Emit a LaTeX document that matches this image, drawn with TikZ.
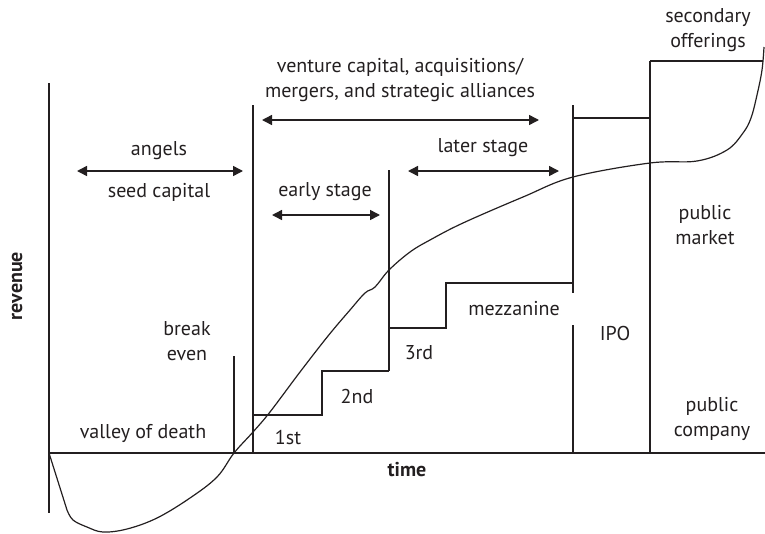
\documentclass[tikz,border=0pt]{standalone}
\usepackage{fontspec}
\setmainfont{PT Sans}
\usetikzlibrary{arrows.meta}
\definecolor{ink}{RGB}{35,31,32}
\begin{document}
\begin{tikzpicture}[x=1pt,y=-1pt,
  line/.style={draw=ink,line width=1.3pt},
  twoway/.style={draw=ink,line width=1.5pt,{Triangle[length=10pt,width=10pt]}-{Triangle[length=10pt,width=10pt]}},
  lbl/.style={text=ink,font=\fontsize{20}{25}\selectfont,inner sep=0pt,align=center},
  bold/.style={lbl,font=\fontsize{20}{25}\selectfont\bfseries}]
\useasboundingbox (0,0) rectangle (765,533);
% axes
\draw[line] (49,83) -- (49,513);
\draw[line] (49,453) -- (765,453);
% verticals
\draw[line] (234,356) -- (234,453);
\draw[line] (253,105) -- (253,453);
\draw[line] (573,105) -- (573,293);
\draw[line] (573,325) -- (573,453);
\draw[line] (650,61) -- (650,453);
% steps
\draw[line] (253,415) -- (322,415) -- (322,371) -- (389,371);
\draw[line] (389,170) -- (389,371);
\draw[line] (389,328) -- (446,328) -- (446,283) -- (573,283);
\draw[line] (573,118) -- (650,118);
\draw[line] (650,61) -- (763,61);
% revenue curve
\draw[line,line width=1.2pt] (49,453) -- (67,510)
  plot[smooth,tension=0.6] coordinates {(67,510) (73,520) (87,527) (103,532) (127,529) (157,518) (190,498) (217,477) (234,453) (253,432) (270,412) (300,372) (328,336) (350,310) (365,293) (375,287) (389,270) (410,252) (430,240) (463,223) (523,197) (573,177) (650,163) (697,161) (727,150) (743,133) (751,118) (757,95) (762,70) (764,47)};
% arrows
\coordinate (a1) at (77,171); \coordinate (a2) at (243,171);
\coordinate (v1) at (262,120); \coordinate (v2) at (539,120);
\coordinate (l1) at (408,171); \coordinate (l2) at (559,171);
\coordinate (e1) at (272,215); \coordinate (e2) at (380,215);
\draw[twoway] (a1) -- (a2);
\draw[twoway] (v1) -- (v2);
\draw[twoway] (l1) -- (l2);
\draw[twoway] (e1) -- (e2);
% labels
\node[lbl] (angels) at (159,151) {angels};
\node[lbl] (seed) at (159,192) {seed capital};
\node[lbl] (venture) at (400,80) {venture capital, acquisitions/\\mergers, and strategic alliances};
\node[lbl] (later) at (483,148) {later stage};
\node[lbl] (early) at (325,192) {early stage};
\node[lbl] (secondary) at (708,30) {secondary\\offerings};
\node[lbl] (pubmarket) at (705,225) {public\\market};
\node[lbl] (pubcompany) at (712,419) {public\\company};
\node[lbl] (ipo) at (615,333) {IPO};
\node[lbl] (mezz) at (514,309) {mezzanine};
\node[lbl] (third) at (419,353) {3rd};
\node[lbl] (second) at (357,396) {2nd};
\node[lbl] (first) at (288,437) {1st};
\node[lbl] (breakeven) at (187,341) {break\\even};
\node[lbl] (valley) at (143,433) {valley of death};
\node[bold] (time) at (407,470) {time};
\node[bold,rotate=90] (revenue) at (17,286) {revenue};
\end{tikzpicture}
\end{document}
